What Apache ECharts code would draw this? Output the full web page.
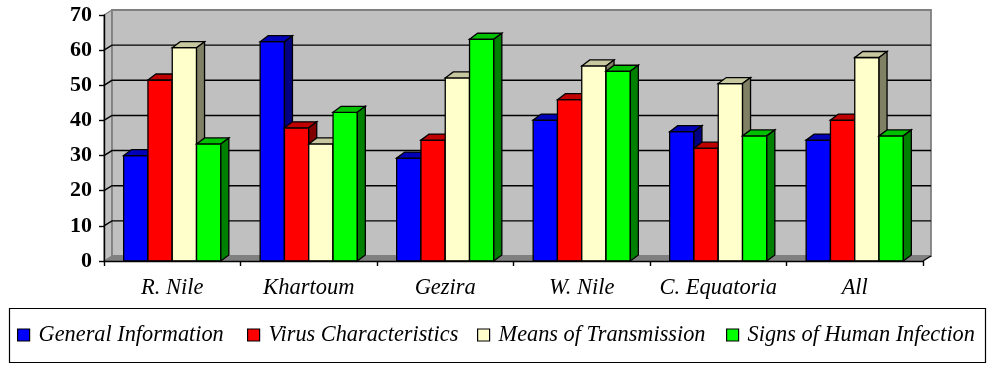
<!DOCTYPE html>
<html>
<head>
<meta charset="utf-8">
<script src="https://cdn.jsdelivr.net/npm/echarts@6/dist/echarts.min.js"></script>
<style>
  html, body { margin: 0; padding: 0; background: #ffffff; }
  #chart { width: 987px; height: 365px; }
</style>
</head>
<body>
<div id="chart"></div>
<script>
// Regions and scores per topic
const categories = ['R. Nile', 'Khartoum', 'Gezira', 'W. Nile', 'C. Equatoria', 'All'];
const seriesNames = ['General Information', 'Virus Characteristics', 'Means of Transmission', 'Signs of Human Infection'];
const generalInformation   = [30, 62.4, 29.3, 40.1, 36.8, 34.4];
const virusCharacteristics = [51.5, 37.9, 34.4, 45.9, 32.1, 40.1];
const meansOfTransmission  = [60.7, 33.3, 52.1, 55.5, 50.5, 57.9];
const signsOfInfection     = [33.3, 42.3, 63.1, 54.0, 35.6, 35.6];
const yTicks = [0, 10, 20, 30, 40, 50, 60, 70];

const seriesValues = [generalInformation, virusCharacteristics, meansOfTransmission, signsOfInfection];
// front / top / side shades for each box
const palette = [
  { front: '#0000ff', top: '#0000b8', side: '#000080' },
  { front: '#ff0000', top: '#c00000', side: '#800000' },
  { front: '#ffffcc', top: '#c8c8a0', side: '#808064' },
  { front: '#00ff00', top: '#00c000', side: '#008000' }
];
// left edge of each legend entry inside the key box
const legendLefts = [17, 247, 477, 726];

const DX = 8, DY = -5;          // depth projection of the walls
const BDX = 8, BDY = -6;        // depth projection of the boxes
const FONT = '"Liberation Serif", "Times New Roman", serif';

const chart = echarts.init(document.getElementById('chart'), null, { renderer: 'canvas' });

// Back wall, side wall, floor and gridlines
function renderWalls(params, api) {
  const cs = params.coordSys;
  const x = cs.x, y = cs.y, w = cs.width, h = cs.height;
  const children = [];
  children.push({
    type: 'polygon',
    shape: { points: [[x, y], [x + DX, y + DY], [x + DX, y + h + DY], [x, y + h]] },
    style: { fill: '#c0c0c0', stroke: '#808080', lineWidth: 1.3 }
  });
  children.push({
    type: 'rect',
    shape: { x: x + DX, y: y + DY, width: w, height: h },
    style: { fill: '#c0c0c0', stroke: '#808080', lineWidth: 1.8 }
  });
  children.push({
    type: 'polygon',
    shape: { points: [[x, y + h], [x + DX, y + h + DY], [x + w + DX, y + h + DY], [x + w, y + h]] },
    style: { fill: '#808080', stroke: null }
  });
  children.push({
    type: 'line',
    shape: { x1: x + w, y1: y + h, x2: x + w + DX, y2: y + h + DY },
    style: { stroke: '#000', lineWidth: 1.4 }
  });
  yTicks.forEach(function (v) {
    if (v === 0 || v === yTicks[yTicks.length - 1]) return;
    const yy = api.coord([0, v])[1];
    children.push({
      type: 'polyline',
      shape: { points: [[x, yy], [x + DX, yy + DY], [x + w + DX, yy + DY]] },
      style: { fill: null, stroke: '#000', lineWidth: 1.4 }
    });
  });
  return { type: 'group', children: children };
}

function makeBoxRenderer(idx) {
  const c = palette[idx];
  return function (params, api) {
    const cat = api.value(0);
    const val = api.value(1);
    const base = api.coord([cat, 0]);
    const topPt = api.coord([cat, val]);
    const band = api.size([1, 0])[0];
    const bw = band * 0.178;
    const l = base[0] - 2 * bw + idx * bw;
    const r = l + bw;
    const t = topPt[1];
    const b = base[1];
    const st = { stroke: '#000', lineWidth: 1.3, lineJoin: 'miter' };
    return {
      type: 'group',
      children: [
        { type: 'polygon', shape: { points: [[l, b], [l, t], [r, t], [r, b]] },
          style: Object.assign({ fill: c.front }, st) },
        { type: 'polygon', shape: { points: [[l, t], [l + BDX, t + BDY], [r + BDX, t + BDY], [r, t]] },
          style: Object.assign({ fill: c.top }, st) },
        { type: 'polygon', shape: { points: [[r, t], [r + BDX, t + BDY], [r + BDX, b + BDY], [r, b]] },
          style: Object.assign({ fill: c.side }, st) }
      ]
    };
  };
}

const series = [{
  name: 'walls',
  type: 'custom',
  z: 1,
  silent: true,
  renderItem: renderWalls,
  data: [[0, 0]]
}];
seriesNames.forEach(function (name, i) {
  series.push({
    name: name,
    type: 'custom',
    z: 2,
    renderItem: makeBoxRenderer(i),
    itemStyle: { color: palette[i].front, borderColor: '#000', borderWidth: 1 },
    encode: { x: 0, y: 1 },
    data: categories.map(function (c, k) { return [k, seriesValues[i][k]]; })
  });
});

const legends = seriesNames.map(function (name, i) {
  return {
    data: [name],
    left: legendLefts[i],
    top: 324,
    padding: 0,
    icon: 'rect',
    itemWidth: 12,
    itemHeight: 12,
    itemStyle: { borderColor: '#000', borderWidth: 1.2 },
    textStyle: { color: '#000', fontFamily: FONT, fontStyle: 'italic', fontSize: 22.3, padding: [0, 0, 0, 4] }
  };
});

chart.setOption({
  animation: false,
  backgroundColor: '#ffffff',
  grid: { left: 104, right: 64, top: 15, bottom: 104 },
  xAxis: {
    type: 'category',
    data: categories,
    z: 10,
    boundaryGap: true,
    axisLine: { show: true, lineStyle: { color: '#000', width: 1.4 } },
    axisTick: { show: true, length: 5, lineStyle: { color: '#000', width: 1.4 } },
    axisLabel: { interval: 0, color: '#000', fontFamily: FONT, fontStyle: 'italic', fontSize: 22.5, margin: 16 },
    splitLine: { show: false }
  },
  yAxis: {
    type: 'value',
    min: 0, max: 70, interval: 10,
    z: 10,
    axisLine: { show: true, lineStyle: { color: '#000', width: 1.4 } },
    axisTick: { show: true, length: 5, lineStyle: { color: '#000', width: 1.4 } },
    axisLabel: { color: '#000', fontFamily: FONT, fontWeight: 'bold', fontSize: 22, margin: 12 },
    splitLine: { show: false }
  },
  legend: legends,
  graphic: [{
    type: 'rect',
    left: 7, top: 306,
    shape: { width: 976, height: 54 },
    style: { fill: null, stroke: '#000', lineWidth: 1.2 },
    z: 0
  }],
  series: series
});
</script>
</body>
</html>
